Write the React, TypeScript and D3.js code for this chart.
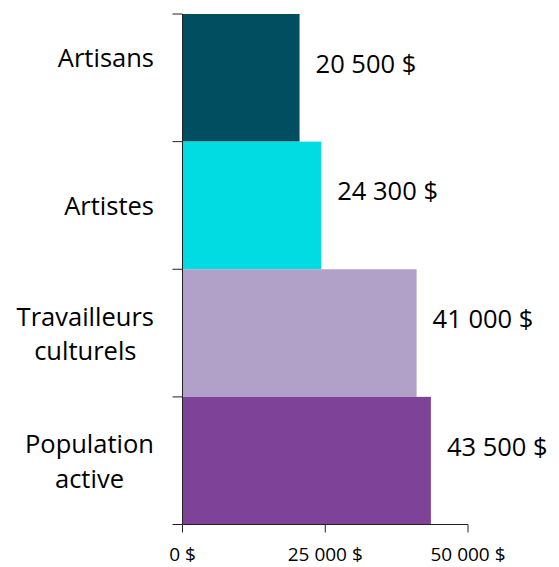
import React, { useEffect, useRef } from 'react';
import * as d3 from 'd3';

const categories = ['Artisans', 'Artistes', 'Travailleurs culturels', 'Population active'];
const labelLines = [['Artisans'], ['Artistes'], ['Travailleurs', 'culturels'], ['Population', 'active']];
const incomes = [20500, 24300, 41000, 43500];
const valueLabels = ['20 500 $', '24 300 $', '41 000 $', '43 500 $'];
const colors = ['#024e61', '#00dce2', '#b1a1c8', '#7f4299'];
const xTicks = [0, 25000, 50000];
const xTickLabels = ['0 $', '25 000 $', '50 000 $'];

const FONT = '"Open Sans", "Noto Sans", sans-serif';

const App: React.FC = () => {
  const svgRef = useRef<SVGSVGElement | null>(null);

  useEffect(() => {
    const svg = d3.select(svgRef.current);
    svg.selectAll('*').remove();

    const width = 559;
    const height = 567;

    svg.attr('width', width).attr('height', height);

    const x = d3.scaleLinear().domain([0, 50000]).range([182.5, 468]);
    const y = d3.scaleBand<string>().domain(categories).range([14, 524.5]).padding(0);

    // bars
    svg
      .selectAll('rect.bar')
      .data(categories)
      .enter()
      .append('rect')
      .attr('class', 'bar')
      .attr('x', x(0))
      .attr('y', (d) => y(d)!)
      .attr('width', (d, i) => x(incomes[i]) - x(0))
      .attr('height', y.bandwidth())
      .attr('fill', (d, i) => colors[i]);

    // y axis line + band-boundary ticks
    const axisColor = '#222';
    svg
      .append('line')
      .attr('x1', x(0))
      .attr('x2', x(0))
      .attr('y1', 14)
      .attr('y2', 524.5)
      .attr('stroke', axisColor)
      .attr('stroke-width', 1);

    const boundaries = categories.map((c) => y(c)!).concat([y.range()[1]]);
    boundaries.forEach((b) => {
      svg
        .append('line')
        .attr('x1', x(0) - 10)
        .attr('x2', x(0))
        .attr('y1', b)
        .attr('y2', b)
        .attr('stroke', axisColor)
        .attr('stroke-width', 1);
    });

    // x axis
    const xAxisY = y.range()[1];
    svg
      .append('line')
      .attr('x1', x(0))
      .attr('x2', x(50000))
      .attr('y1', xAxisY)
      .attr('y2', xAxisY)
      .attr('stroke', axisColor)
      .attr('stroke-width', 1);

    xTicks.forEach((t, i) => {
      svg
        .append('line')
        .attr('x1', x(t))
        .attr('x2', x(t))
        .attr('y1', xAxisY)
        .attr('y2', xAxisY + 8)
        .attr('stroke', axisColor)
        .attr('stroke-width', 1);
      svg
        .append('text')
        .attr('x', x(t))
        .attr('y', 561)
        .attr('text-anchor', 'middle')
        .attr('font-family', FONT)
        .attr('font-size', 19)
        .attr('fill', '#000')
        .text(xTickLabels[i]);
    });

    // value labels
    categories.forEach((c, i) => {
      svg
        .append('text')
        .attr('x', x(incomes[i]) + 16)
        .attr('y', y(c)! + y.bandwidth() / 2 - 5)
        .attr('font-family', FONT)
        .attr('font-size', 25.5)
        .attr('fill', '#000')
        .text(valueLabels[i]);
    });

    // category labels: block right-aligned, lines centered within block
    const labelRight = 154;
    const lineH = 34.5;
    categories.forEach((c, i) => {
      const lines = labelLines[i];
      const g = svg.append('g');
      const texts = lines.map((ln) =>
        g
          .append('text')
          .attr('font-family', FONT)
          .attr('font-size', 25.5)
          .attr('fill', '#000')
          .attr('text-anchor', 'middle')
          .text(ln)
      );
      const maxW = d3.max(texts, (t) => (t.node() as SVGTextElement).getComputedTextLength()) || 0;
      const cx = labelRight - maxW / 2;
      const mid = y(c)! + y.bandwidth() / 2 + (i === 0 ? -21 : 0);
      const firstBase = mid + 10 - ((lines.length - 1) * lineH) / 2;
      texts.forEach((t, j) => {
        t.attr('x', cx).attr('y', firstBase + j * lineH);
      });
    });
  }, []);

  return <svg ref={svgRef} style={{ position: 'absolute', left: 0, top: 0 }}></svg>;
};

export default App;
